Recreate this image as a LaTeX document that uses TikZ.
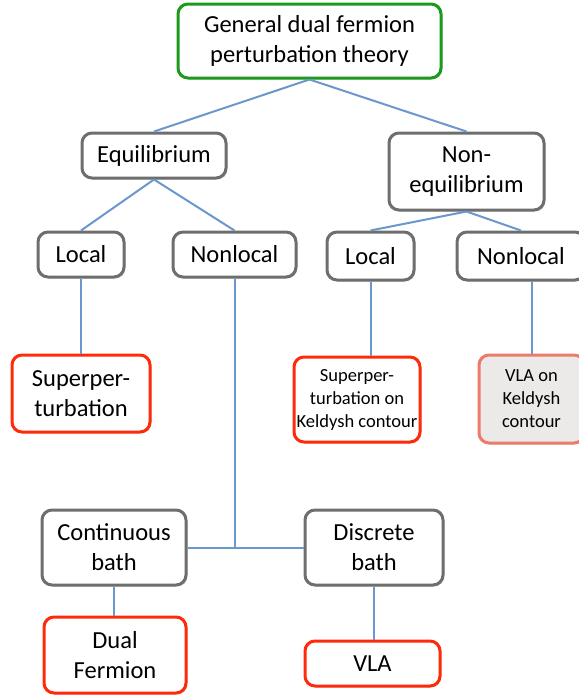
\documentclass[tikz,border=0pt]{standalone}
\usepackage{fontspec}
\setmainfont{Carlito}
\usetikzlibrary{shadows}
\definecolor{boxgray}{HTML}{6E6E6E}
\definecolor{boxred}{HTML}{FF2A0A}
\definecolor{boxgreen}{HTML}{1C9A1C}
\definecolor{lightred}{HTML}{EC7B6A}
\definecolor{lightfill}{HTML}{EBEAE8}
\definecolor{linkblue}{HTML}{6A98CC}
\tikzset{
  basebox/.style={draw, line width=3pt, rounded corners=10pt, fill=white, inner sep=0pt, align=center,
    font=\fontsize{24.5}{30}\selectfont, text=black,
    drop shadow={shadow xshift=1.5pt, shadow yshift=-1.5pt, opacity=0.25}},
  graybox/.style={basebox, draw=boxgray},
  redbox/.style={basebox, draw=boxred},
  greenbox/.style={basebox, draw=boxgreen},
  smalltext/.style={font=\fontsize{18.5}{23}\selectfont},
  link/.style={draw=linkblue, line width=2pt}
}
\begin{document}
\begin{tikzpicture}[x=1pt,y=-1pt]
\useasboundingbox (0,0) rectangle (579,697);
\node[greenbox, minimum width=263pt, minimum height=74pt] (top) at (309.5,41) {General dual fermion\\perturbation theory};
\node[graybox, minimum width=144pt, minimum height=45pt] (eq) at (154,155.5) {Equilibrium};
\node[graybox, minimum width=155pt, minimum height=77pt] (neq) at (466.5,171.5) {Non-\\equilibrium};
\node[graybox, minimum width=86pt, minimum height=45pt] (lloc) at (81,254.5) {Local};
\node[graybox, minimum width=123pt, minimum height=45pt] (lnl) at (234.5,254.5) {Nonlocal};
\node[graybox, minimum width=87pt, minimum height=48pt] (rloc) at (370.5,256) {Local};
\node[graybox, minimum width=128pt, minimum height=48pt] (rnl) at (521,256) {Nonlocal};
\node[redbox, minimum width=138pt, minimum height=77pt] (sp) at (81,393.5) {Superper-\\turbation};
\node[redbox, smalltext, minimum width=126pt, minimum height=85pt] (spk) at (357,399.5) {Superper-\\turbation on\\Keldysh contour};
\node[basebox, smalltext, draw=lightred, fill=lightfill, minimum width=105pt, minimum height=88pt] (vlak) at (531.5,399) {VLA on\\Keldysh\\contour};
\node[graybox, minimum width=144pt, minimum height=75pt] (cb) at (114,547.5) {Continuous\\bath};
\node[graybox, minimum width=138pt, minimum height=75pt] (db) at (374,547.5) {Discrete\\bath};
\node[redbox, minimum width=142pt, minimum height=76pt] (df) at (115,655) {Dual\\Fermion};
\node[redbox, minimum width=135pt, minimum height=45pt] (vla) at (372.5,663.5) {VLA};
\coordinate (j) at (lnl.south |- cb.east);
\begin{scope}[on background layer/.try]
\end{scope}
\draw[link] (top.south) -- (eq.north);
\draw[link] (top.south) -- (neq.north);
\draw[link] (eq.south) -- (lloc.north);
\draw[link] (eq.south) -- (lnl.north);
\draw[link] (neq.south) -- (rloc.north);
\draw[link] (neq.south) -- (rnl.north);
\draw[link] (lloc.south) -- (sp.north);
\draw[link] (rloc.south) -- (rloc.south |- spk.north);
\draw[link] (vlak.north |- rnl.south) -- (vlak.north);
\draw[link] (lnl.south) -- (j);
\draw[link] (cb.east) -- (db.west);
\draw[link] (cb.south) -- (cb.south |- df.north);
\draw[link] (db.south) -- (db.south |- vla.north);
\end{tikzpicture}
\end{document}
